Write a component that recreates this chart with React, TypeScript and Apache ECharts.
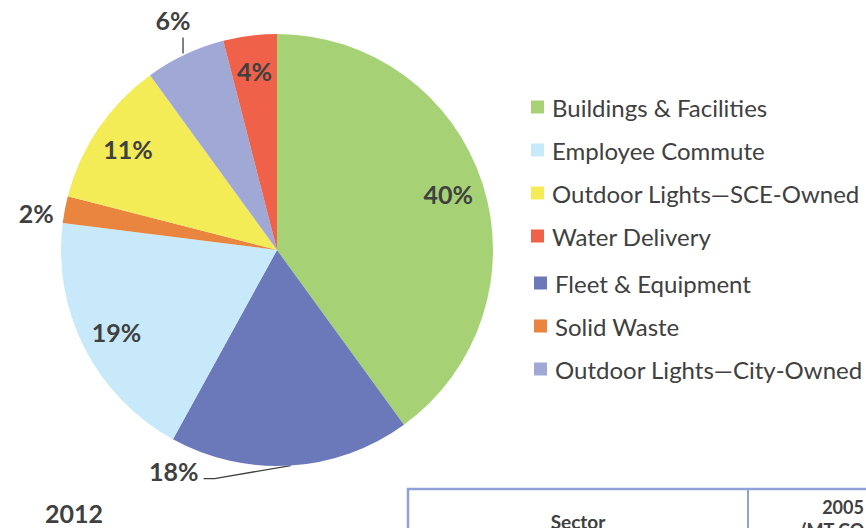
import React, { useEffect, useRef } from "react";
import * as echarts from "echarts";

const categories = [
  "Buildings & Facilities",
  "Fleet & Equipment",
  "Employee Commute",
  "Solid Waste",
  "Outdoor Lights—SCE-Owned",
  "Outdoor Lights—City-Owned",
  "Water Delivery",
];
const shares = [40, 18, 19, 2, 11, 6, 4];
const colors = ["#a6d275", "#6b79bb", "#c7e9f9", "#e9853f", "#f4ec56", "#a0a8d6", "#ef6149"];
const insideLabelled = ["Buildings & Facilities", "Employee Commute", "Outdoor Lights—SCE-Owned", "Water Delivery"];
const legendGroupA = ["Buildings & Facilities", "Employee Commute", "Outdoor Lights—SCE-Owned", "Water Delivery"];
const legendGroupB = ["Fleet & Equipment", "Solid Waste", "Outdoor Lights—City-Owned"];
const yearLabel = "2012";
const tableHeaders = ["Sector", "2005", "(MT CO₂e)"];

const TEXT = "#404040";
const FONT = "Lato, 'Noto Sans', sans-serif";
const CX = 277;
const CY = 250;
const R = 216;

function edgePoint(i: number): [number, number] {
  const total = shares.reduce((a, b) => a + b, 0);
  let before = 0;
  for (let k = 0; k < i; k++) before += shares[k];
  const a = ((before + shares[i] / 2) / total) * 2 * Math.PI;
  return [CX + R * Math.sin(a), CY - R * Math.cos(a)];
}

export default function App() {
  const ref = useRef<HTMLDivElement>(null);
  useEffect(() => {
    if (!ref.current) return;
    const chart = echarts.init(ref.current, undefined, { renderer: "svg" });
    const labelFont = { fontFamily: FONT, fontWeight: "bold" as const, fontSize: 25, color: TEXT };
    const legendCommon = {
      orient: "vertical" as const,
      icon: "rect",
      itemWidth: 13,
      itemHeight: 13,
      itemGap: 19,
      padding: 0,
      selectedMode: false,
      textStyle: { fontFamily: FONT, fontSize: 24, color: TEXT, padding: [0, 0, 0, 3], lineHeight: 24 },
    };
    chart.setOption({
      animation: false,
      legend: [
        { ...legendCommon, left: 531, top: 95, data: legendGroupA },
        { ...legendCommon, left: 534, top: 271, data: legendGroupB },
      ],
      series: [
        {
          type: "pie",
          center: [CX, CY],
          radius: [0, R],
          startAngle: 90,
          clockwise: true,
          avoidLabelOverlap: false,
          silent: true,
          itemStyle: { borderWidth: 0 },
          label: { show: true, position: "outside", ...labelFont, formatter: (p: any) => p.value + "%" },
          labelLine: { show: true, lineStyle: { color: "#404040", width: 1.3 } },
          labelLayout: (params: any) => {
            const name = categories[params.dataIndex];
            const p = edgePoint(params.dataIndex);
            if (name === "Fleet & Equipment") {
              return {
                x: p[0] - 92,
                y: p[1] + 5,
                align: "right",
                verticalAlign: "middle",
                labelLinePoints: [p, [p[0] - 76, p[1] + 13], [p[0] - 87, p[1] + 13]],
              };
            }
            if (name === "Outdoor Lights—City-Owned") {
              return {
                x: p[0] - 12,
                y: p[1] - 35,
                align: "center",
                verticalAlign: "middle",
                labelLinePoints: [[p[0] - 2, p[1] - 1], [p[0] - 2, p[1] - 17], [p[0] - 2, p[1] - 17]],
              };
            }
            if (name === "Solid Waste") {
              return { x: p[0] - 11, y: p[1] + 3, align: "right", verticalAlign: "middle" };
            }
            return {};
          },
          data: categories.map((name, i) => ({
            name,
            value: shares[i],
            itemStyle: { color: colors[i] },
            label: { show: !insideLabelled.includes(name) },
            labelLine: { show: name !== "Solid Waste" && !insideLabelled.includes(name) },
          })),
        },
        {
          type: "pie",
          center: [CX, CY],
          radius: [R * 0.64, R],
          startAngle: 90,
          clockwise: true,
          silent: true,
          z: 5,
          itemStyle: { color: "rgba(0,0,0,0)", borderWidth: 0 },
          label: { show: true, position: "inside", ...labelFont, formatter: (p: any) => p.value + "%" },
          labelLine: { show: false },
          data: categories.map((name, i) => ({
            name,
            value: shares[i],
            itemStyle: { color: "rgba(0,0,0,0)" },
            label: { show: insideLabelled.includes(name) },
          })),
        },
      ],
      graphic: [
        {
          type: "text",
          x: 45,
          y: 513,
          style: { text: yearLabel, fontFamily: FONT, fontSize: 25, fontWeight: "bold", fill: TEXT, verticalAlign: "middle" },
        },
        {
          type: "rect",
          shape: { x: 408, y: 489, width: 500, height: 100 },
          style: { fill: "none", stroke: "#8fa1d7", lineWidth: 2.5 },
        },
        {
          type: "line",
          shape: { x1: 748, y1: 489, x2: 748, y2: 540 },
          style: { stroke: "#8fa1d7", lineWidth: 2 },
        },
        {
          type: "text",
          x: 578,
          y: 512,
          style: { text: tableHeaders[0], fontFamily: FONT, fontSize: 19, fontWeight: "bold", fill: TEXT, align: "center" },
        },
        {
          type: "text",
          x: 843,
          y: 498,
          style: { text: tableHeaders[1], fontFamily: FONT, fontSize: 18, fontWeight: "bold", fill: TEXT, align: "center" },
        },
        {
          type: "text",
          x: 843,
          y: 521,
          style: { text: tableHeaders[2], fontFamily: FONT, fontSize: 18, fontWeight: "bold", fill: TEXT, align: "center" },
        },
      ],
    });
    return () => chart.dispose();
  }, []);
  return <div ref={ref} style={{ position: "fixed", left: 0, top: 0, width: 866, height: 528, background: "#fff" }} />;
}
